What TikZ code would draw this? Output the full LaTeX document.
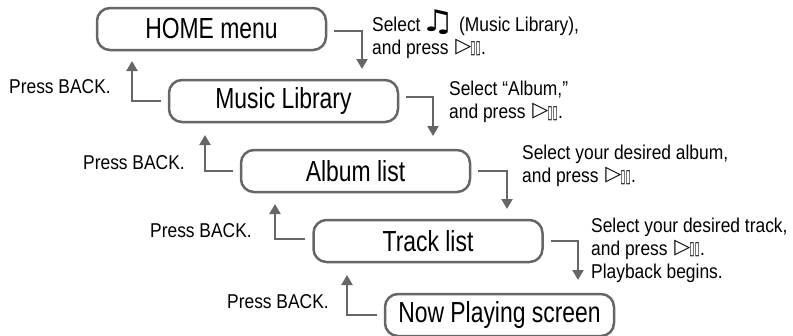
\documentclass[tikz,border=0pt]{standalone}
\usepackage{fontspec}
\setmainfont[FakeStretch=0.87]{Liberation Sans}
\newfontfamily\boxfont[FakeStretch=0.79]{Liberation Sans}
\newfontfamily\symfont{DejaVu Sans}
\usetikzlibrary{arrows.meta}
\definecolor{linegray}{HTML}{666666}
\newcommand{\playpause}{{\symfont\fontsize{16}{16}\selectfont\hspace{2pt}\raisebox{2pt}{\scalebox{1.3}[1.3]{\char"25B7}}\hspace{-1pt}\raisebox{0.5pt}{\scalebox{0.6}[1.15]{\char"25AF\char"25AF}}}}
\newcommand{\musicnote}{{\symfont\fontsize{26}{26}\selectfont\hspace{-5pt}\scalebox{1.5}[1.15]{\char"266B}\hspace{-1pt}}}
\tikzset{
  screenbox/.style={draw=linegray, line width=2.5pt, rounded corners=13pt, minimum width=229pt,
    minimum height=42pt, inner sep=0pt, font=\boxfont\fontsize{29}{29}\selectfont},
  flow/.style={draw=linegray, line width=2.2pt, -{Triangle[length=10pt,width=11pt]}, shorten <=7pt},
  hint/.style={anchor=west, align=left, inner sep=0pt, font=\fontsize{20}{23}\selectfont},
}
\begin{document}
\begin{tikzpicture}[x=1pt,y=-1pt]
  \useasboundingbox (0,0) rectangle (793,335);

  % screens
  \node[screenbox] (home) at (211.5,29) {HOME menu};
  \node[screenbox] (library) at (283.5,101) {Music Library};
  \node[screenbox] (album) at (355.5,171) {Album list};
  \node[screenbox] (track) at (428,241) {Track list};
  \node[screenbox] (playing) at (499.5,315) {Now Playing screen};

  % free ends of the arrows
  \coordinate (D1) at (362,69);
  \coordinate (D2) at (433,136);
  \coordinate (D3) at (507,209);
  \coordinate (D4) at (578,280);
  \coordinate (U1) at (132,61);
  \coordinate (U2) at (205,135);
  \coordinate (U3) at (275,204);
  \coordinate (U4) at (347,275);

  % going down
  \draw[flow] ([yshift=-2pt]home.east) -| (D1);
  \draw[flow] ([yshift=4pt]library.east) -| (D2);
  \draw[flow] (album.east) -| (D3);
  \draw[flow] (track.east) -| (D4);

  % going back
  \draw[flow] (library.west) -| (U1);
  \draw[flow] (album.west) -| (U2);
  \draw[flow] ([yshift=2pt]track.west) -| (U3);
  \draw[flow] (playing.west) -| (U4);

  % select texts
  \node[hint] (sel1) at (372,34) {Select \musicnote\ (Music Library),\\and press \playpause.};
  \node[hint] (sel2) at (449,102) {Select “Album,”\\and press \playpause.};
  \node[hint] (sel3) at (522,166) {Select your desired album,\\and press \playpause.};
  \node[hint] (sel4) at (591,250) {Select your desired track,\\and press \playpause.\\Playback begins.};

  % back texts
  \node[hint] (back1) at (9,87) {Press BACK.};
  \node[hint] (back2) at (83,163) {Press BACK.};
  \node[hint] (back3) at (150,231) {Press BACK.};
  \node[hint] (back4) at (227,302) {Press BACK.};
\end{tikzpicture}
\end{document}
